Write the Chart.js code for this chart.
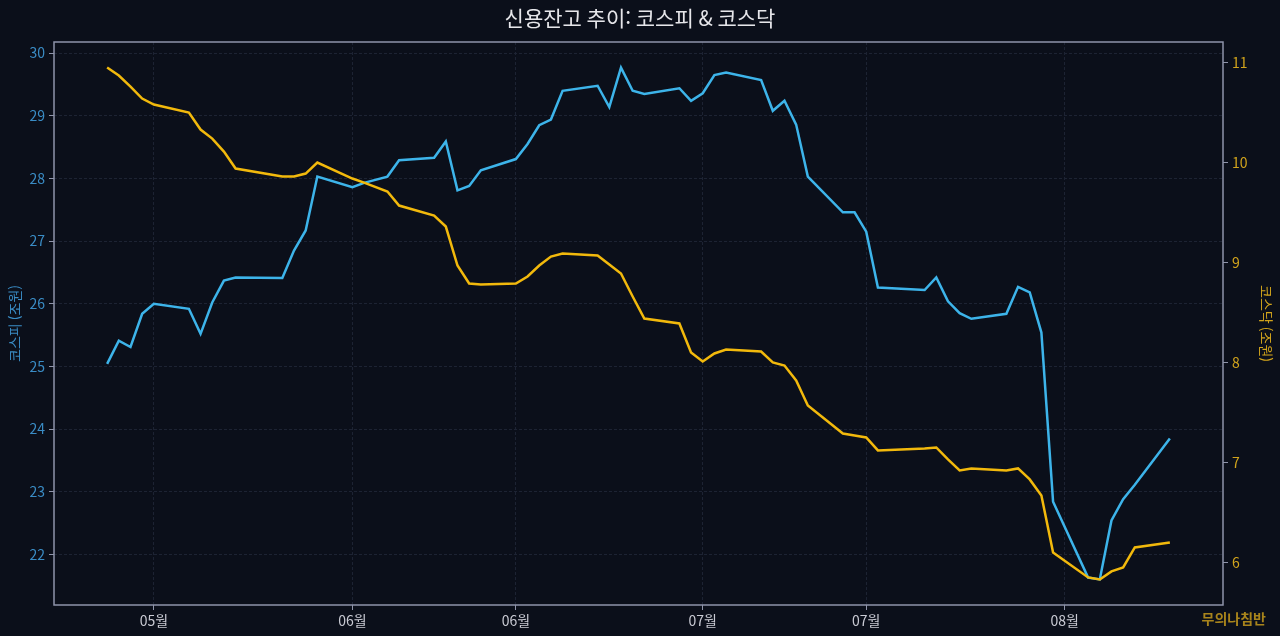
<!DOCTYPE html>
<html lang="ko">
<head>
<meta charset="utf-8">
<title>신용잔고 추이</title>
<script src="https://cdn.jsdelivr.net/npm/chart.js@4.4.1/dist/chart.umd.min.js"></script>
<style>
  html, body { margin: 0; padding: 0; background: #0b0f1a; }
  #wrap { width: 1280px; height: 636px; position: relative; }
</style>
</head>
<body>
<div id="wrap"><canvas id="chart"></canvas></div>
<script>
// 신용잔고 데이터 (조원), 2026년 거래일 기준
const YEAR = 2026;
const dates = [
    '05-11', '05-12', '05-13', '05-14', '05-15', '05-18', '05-19', '05-20', '05-21', '05-22',
    '05-26', '05-27', '05-28', '05-29', '06-01', '06-02', '06-04', '06-05', '06-08', '06-09',
    '06-10', '06-11', '06-12', '06-15', '06-16', '06-17', '06-18', '06-19', '06-22', '06-23',
    '06-24', '06-25', '06-26', '06-29', '06-30', '07-01', '07-02', '07-03', '07-06', '07-07',
    '07-08', '07-09', '07-10', '07-13', '07-14', '07-15', '07-16', '07-20', '07-21', '07-22',
    '07-23', '07-24', '07-27', '07-28', '07-29', '07-30', '07-31', '08-03', '08-04', '08-05',
    '08-06', '08-07', '08-10'
];
const kospi = [
    25.04, 25.41, 25.31, 25.84, 26.00, 25.92, 25.52, 26.02, 26.37, 26.42,
    26.41, 26.85, 27.17, 28.03, 27.86, 27.93, 28.03, 28.29, 28.33, 28.59,
    27.81, 27.88, 28.13, 28.31, 28.55, 28.85, 28.94, 29.40, 29.48, 29.14,
    29.77, 29.40, 29.35, 29.44, 29.24, 29.36, 29.65, 29.69, 29.57, 29.08,
    29.24, 28.86, 28.03, 27.46, 27.46, 27.15, 26.26, 26.22, 26.42, 26.04,
    25.85, 25.76, 25.84, 26.27, 26.18, 25.54, 22.84, 21.63, 21.60, 22.54,
    22.88, 23.11, 23.85
];
const kosdaq = [
    10.95, 10.87, 10.76, 10.64, 10.58, 10.50, 10.33, 10.24, 10.11, 9.94,
    9.86, 9.86, 9.89, 10.00, 9.84, 9.80, 9.71, 9.57, 9.47, 9.36,
    8.97, 8.79, 8.78, 8.79, 8.86, 8.97, 9.06, 9.09, 9.07, 8.98,
    8.89, 8.66, 8.44, 8.39, 8.10, 8.01, 8.09, 8.13, 8.11, 8.00,
    7.97, 7.82, 7.57, 7.29, 7.27, 7.25, 7.12, 7.14, 7.15, 7.03,
    6.92, 6.94, 6.92, 6.94, 6.83, 6.67, 6.10, 5.85, 5.83, 5.91,
    5.95, 6.15, 6.20
];
const tickDates = ['05-15', '06-01', '06-15', '07-01', '07-15', '08-01'];
const tickLabels = ['05월', '06월', '06월', '07월', '07월', '08월'];
const kospiTicks = [22, 23, 24, 25, 26, 27, 28, 29, 30];
const kosdaqTicks = [6, 7, 8, 9, 10, 11];

const BLUE = '#3db4ea';
const GOLD = '#f2b90c';
const FONT = "'Noto Sans CJK KR', 'Noto Sans', sans-serif";

function toDay(md) {
    const [m, d] = md.split('-').map(Number);
    return Date.UTC(YEAR, m - 1, d) / 86400000;
}

// matplotlib 기본 여백 5%
function padded(values) {
    const lo = Math.min(...values), hi = Math.max(...values);
    const m = (hi - lo) * 0.05;
    return { min: lo - m, max: hi + m };
}

const xs = dates.map(toDay);
const xRange = padded(xs);
const kospiRange = padded(kospi);
const kosdaqRange = padded(kosdaq);
const tickDays = tickDates.map(toDay);

const framePlugin = {
    id: 'frame',
    beforeDatasetsDraw(chart) {
        const { ctx, chartArea: a } = chart;
        ctx.save();
        ctx.strokeStyle = '#8f94aa';
        ctx.lineWidth = 1.5;
        ctx.strokeRect(a.left, a.top, a.right - a.left, a.bottom - a.top);
        ctx.restore();
    },
    afterDraw(chart) {
        const ctx = chart.ctx;
        ctx.save();
        ctx.fillStyle = '#e6e6ea';
        ctx.font = '21px ' + FONT;
        ctx.textAlign = 'center';
        ctx.textBaseline = 'middle';
        ctx.fillText('신용잔고 추이: 코스피 & 코스닥', 640, 18);
        ctx.fillStyle = '#a8841c';
        ctx.font = 'bold 14px ' + FONT;
        ctx.textAlign = 'right';
        ctx.fillText('무의나침반', 1266, 619);
        ctx.restore();
    }
};

const ctx = document.getElementById('chart').getContext('2d');
new Chart(ctx, {
    type: 'line',
    data: {
        datasets: [{
            label: '코스피',
            data: xs.map((x, i) => ({ x: x, y: kospi[i] })),
            borderColor: BLUE,
            borderWidth: 2.5,
            pointRadius: 0,
            tension: 0,
            yAxisID: 'y',
            order: 1
        }, {
            label: '코스닥',
            data: xs.map((x, i) => ({ x: x, y: kosdaq[i] })),
            borderColor: GOLD,
            borderWidth: 2.5,
            pointRadius: 0,
            tension: 0,
            yAxisID: 'y1',
            order: 0
        }]
    },
    options: {
        responsive: true,
        maintainAspectRatio: false,
        animation: false,
        layout: { padding: { top: 42, left: 0, right: 0, bottom: 0 } },
        plugins: {
            legend: { display: false },
            tooltip: { enabled: false }
        },
        scales: {
            x: {
                type: 'linear',
                min: xRange.min,
                max: xRange.max,
                afterFit: (scale) => { scale.height = 31; },
                afterBuildTicks: (scale) => { scale.ticks = tickDays.map(v => ({ value: v })); },
                ticks: {
                    color: '#c9cad3',
                    font: { family: FONT, size: 14 },
                    padding: 2,
                    maxRotation: 0,
                    callback: (value) => tickLabels[tickDays.indexOf(value)]
                },
                grid: {
                    color: '#1d2333',
                    tickColor: '#8f94aa',
                    tickLength: 5,
                    tickBorderDash: []
                },
                border: { display: false, dash: [3, 2] }
            },
            y: {
                position: 'left',
                min: kospiRange.min,
                max: kospiRange.max,
                afterFit: (scale) => { scale.width = 54; },
                afterBuildTicks: (scale) => { scale.ticks = kospiTicks.map(v => ({ value: v })); },
                ticks: {
                    color: '#3a8cc5',
                    font: { family: FONT, size: 14 },
                    padding: 4
                },
                grid: {
                    color: '#1d2333',
                    tickColor: '#8f94aa',
                    tickLength: 5,
                    tickBorderDash: []
                },
                border: { display: false, dash: [3, 2] },
                title: {
                    display: true,
                    text: '코스피 (조원)',
                    color: '#3a8cc5',
                    font: { family: FONT, size: 14 },
                    padding: { top: 6, bottom: 0 }
                }
            },
            y1: {
                position: 'right',
                min: kosdaqRange.min,
                max: kosdaqRange.max,
                afterFit: (scale) => { scale.width = 57; },
                afterBuildTicks: (scale) => { scale.ticks = kosdaqTicks.map(v => ({ value: v })); },
                ticks: {
                    color: '#d2a41c',
                    font: { family: FONT, size: 14 },
                    padding: 4
                },
                grid: {
                    drawOnChartArea: false,
                    tickColor: '#8f94aa',
                    tickLength: 5
                },
                border: { display: false },
                title: {
                    display: true,
                    text: '코스닥 (조원)',
                    color: '#d2a41c',
                    font: { family: FONT, size: 14 },
                    padding: { top: 5, bottom: 0 }
                }
            }
        }
    },
    plugins: [framePlugin]
});
</script>
</body>
</html>
